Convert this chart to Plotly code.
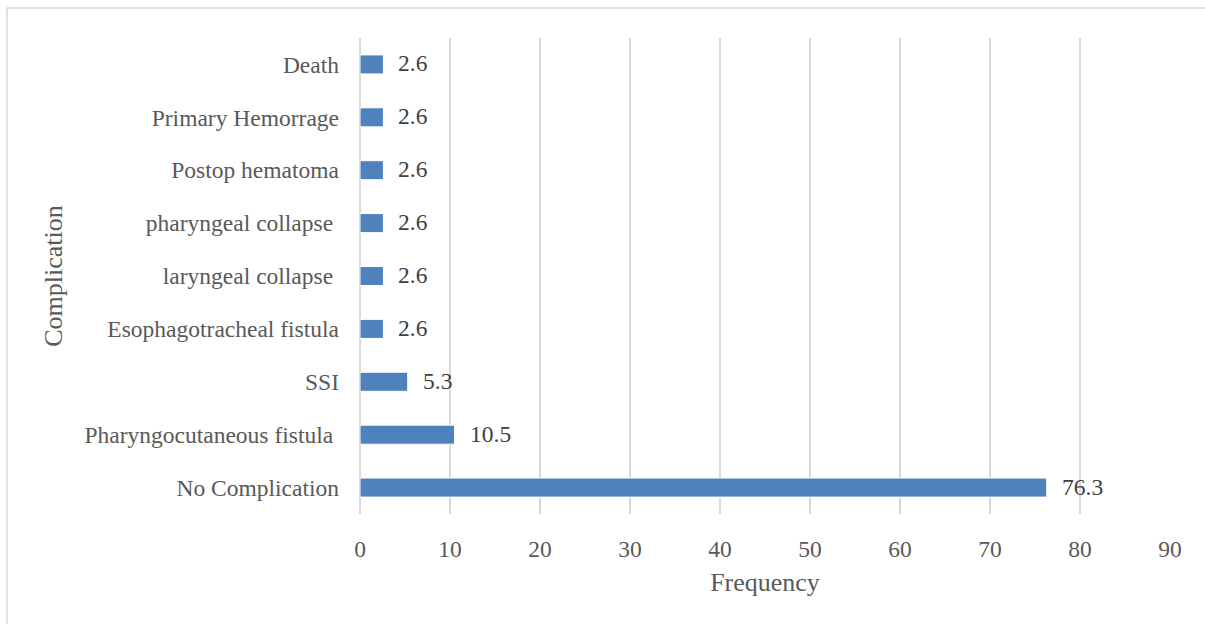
import plotly.graph_objects as go

# Complication categories, bottom to top
categories = [
    "No Complication",
    "Pharyngocutaneous fistula\u00a0",
    "SSI",
    "Esophagotracheal fistula",
    "laryngeal collapse\u00a0",
    "pharyngeal collapse\u00a0",
    "Postop hematoma",
    "Primary Hemorrage",
    "Death",
]
frequency = [76.3, 10.5, 5.3, 2.6, 2.6, 2.6, 2.6, 2.6, 2.6]
x_ticks = [0, 10, 20, 30, 40, 50, 60, 70, 80, 90]

W, H = 1205, 624
ML, MR, MT, MB = 360, 35, 38, 110
pw, ph = W - ML - MR, H - MT - MB

font_family = "Liberation Serif, Times New Roman, serif"
axis_grey = "#D9D9D9"
text_grey = "#595959"

fig = go.Figure(
    go.Bar(
        x=frequency,
        y=categories,
        orientation="h",
        width=0.36,
        marker=dict(color="#4F81BD", line=dict(color="#FFFFFF", width=1)),
        hoverinfo="x+y",
    )
)

# Value labels placed just to the right of each bar end
for cat, val in zip(categories, frequency):
    fig.add_annotation(
        x=val,
        y=cat,
        xref="x",
        yref="y",
        text=f"{val:.1f}",
        showarrow=False,
        xanchor="left",
        yanchor="middle",
        xshift=13,
        yshift=1,
        font=dict(family=font_family, size=23.5, color="#404040"),
    )

fig.update_layout(
    width=W,
    height=H,
    margin=dict(l=ML, r=MR, t=MT, b=MB, pad=0),
    paper_bgcolor="white",
    plot_bgcolor="white",
    showlegend=False,
    font=dict(family=font_family, color=text_grey),
    xaxis=dict(
        range=[0, 90],
        tickvals=x_ticks,
        showgrid=True,
        gridcolor=axis_grey,
        gridwidth=1.5,
        zeroline=True,
        zerolinecolor=axis_grey,
        zerolinewidth=1.5,
        showline=False,
        ticks="",
        ticklabelstandoff=18,
        tickfont=dict(family=font_family, size=23.5, color=text_grey),
        title=dict(
            text="Frequency",
            font=dict(family=font_family, size=26, color=text_grey),
            standoff=12,
        ),
        fixedrange=True,
    ),
    yaxis=dict(
        type="category",
        categoryorder="array",
        categoryarray=categories,
        showgrid=False,
        showline=False,
        ticks="",
        ticklabelstandoff=20,
        tickfont=dict(family=font_family, size=23.5, color=text_grey),
        title=dict(
            text="Complication",
            font=dict(family=font_family, size=26, color=text_grey),
            standoff=14,
        ),
        fixedrange=True,
    ),
    shapes=[
        dict(
            type="rect",
            xref="paper",
            yref="paper",
            x0=(7 - ML) / pw,
            x1=(W + 10 - ML) / pw,
            y0=-(H + 10 - MT - ph) / ph,
            y1=1 + (MT - 8) / ph,
            line=dict(color=axis_grey, width=1.5),
            fillcolor="rgba(0,0,0,0)",
            layer="below",
        )
    ],
)

fig.write_html("out.html", config={"displayModeBar": False})
